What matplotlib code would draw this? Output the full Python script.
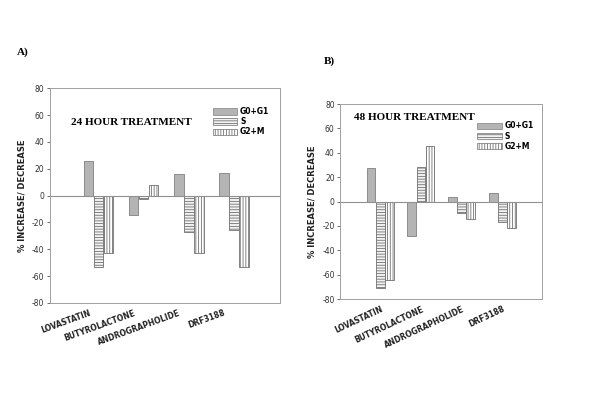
import matplotlib
matplotlib.use("Agg")
import matplotlib.pyplot as plt
import matplotlib.transforms as mtransforms
import numpy as np
from matplotlib.patches import Patch

plt.rcParams["hatch.linewidth"] = 0.6
plt.rcParams["hatch.color"] = "#666666"
plt.rcParams["axes.unicode_minus"] = False

DRUGS = ["LOVASTATIN", "BUTYROLACTONE", "ANDROGRAPHOLIDE", "DRF3188"]
SERIES = ["G0+G1", "S", "G2+M"]

# 24 hour treatment
g0_24 = [25.5, -14.5, 15.8, 16.5]
s_24 = [-53, -2.5, -27.5, -26]
g2_24 = [-42.5, 7.5, -43, -53]

# 48 hour treatment
g0_48 = [27.9, -27.9, 3.8, 7.1]
s_48 = [-70.5, 28.7, -9, -16.4]
g2_48 = [-64.7, 45.6, -14, -21.3]

STYLES = [
    dict(facecolor="#b4b4b4", edgecolor="#808080", hatch=None),
    dict(facecolor="#f2f2f2", edgecolor="#707070", hatch="------"),
    dict(facecolor="white", edgecolor="#707070", hatch="||||||"),
]

fig = plt.figure(figsize=(6.0, 4.16), dpi=100)
ax_a = fig.add_axes([0.083, 0.272, 0.384, 0.516])
ax_b = fig.add_axes([0.567, 0.281, 0.337, 0.469])


def draw(ax, data, title, title_xy, leg_anchor, xlim, rot, lab_dx):
    xs = np.arange(len(DRUGS))
    w = 0.222
    for k, vals in enumerate(data):
        st = STYLES[k]
        ax.bar(xs + (k - 1) * w, vals, width=w * 0.97, facecolor=st["facecolor"],
               edgecolor=st["edgecolor"], hatch=st["hatch"], linewidth=0.6)
    ax.axhline(0, color="#909090", linewidth=0.8)
    ax.set_xlim(*xlim)
    ax.set_ylim(-80, 80)
    ax.set_yticks(np.arange(-80, 81, 20))
    ax.tick_params(axis="y", labelsize=5.5, length=2.5, width=0.6,
                   colors="#555555", labelcolor="#333333", pad=1.5)
    ax.set_xticks(xs)
    ax.set_xticklabels(DRUGS, rotation=rot, ha="right", rotation_mode="anchor",
                       fontsize=5.5, fontweight="bold", color="#222222")
    ax.tick_params(axis="x", length=0, pad=4)
    shift = mtransforms.ScaledTranslation(lab_dx / 100, 0, fig.dpi_scale_trans)
    for lab in ax.get_xticklabels():
        lab.set_transform(lab.get_transform() + shift)
    for sp in ax.spines.values():
        sp.set_color("#a0a0a0")
        sp.set_linewidth(0.7)
    ax.set_ylabel("% INCREASE/ DECREASE", fontsize=6, fontweight="bold",
                  color="#222222", labelpad=4)
    ax.text(title_xy[0], title_xy[1], title, transform=ax.transAxes,
            fontsize=8, fontweight="bold", family="Liberation Serif",
            ha="left", va="center")
    handles = [Patch(facecolor=st["facecolor"], edgecolor=st["edgecolor"],
                     hatch=st["hatch"], linewidth=0.5) for st in STYLES]
    ax.legend(handles, SERIES, loc="upper left", bbox_to_anchor=leg_anchor,
              frameon=False, handlelength=3.2, handleheight=0.9,
              labelspacing=0.15, handletextpad=0.4, borderpad=0,
              prop={"size": 5.5, "weight": "bold"})


draw(ax_a, [g0_24, s_24, g2_24], "24 HOUR TREATMENT", (0.09, 0.84),
     (0.69, 0.93), (-1.08, 4.03), 20, -10)
draw(ax_b, [g0_48, s_48, g2_48], "48 HOUR TREATMENT", (0.07, 0.93),
     (0.66, 0.93), (-0.98, 3.98), 25, 0)

fig.text(17 / 600, 1 - 52 / 416, "A)", fontsize=8, fontweight="bold",
         family="Liberation Serif", va="center")
fig.text(324 / 600, 1 - 61 / 416, "B)", fontsize=8, fontweight="bold",
         family="Liberation Serif", va="center")

fig.savefig("out.png", dpi=100)
